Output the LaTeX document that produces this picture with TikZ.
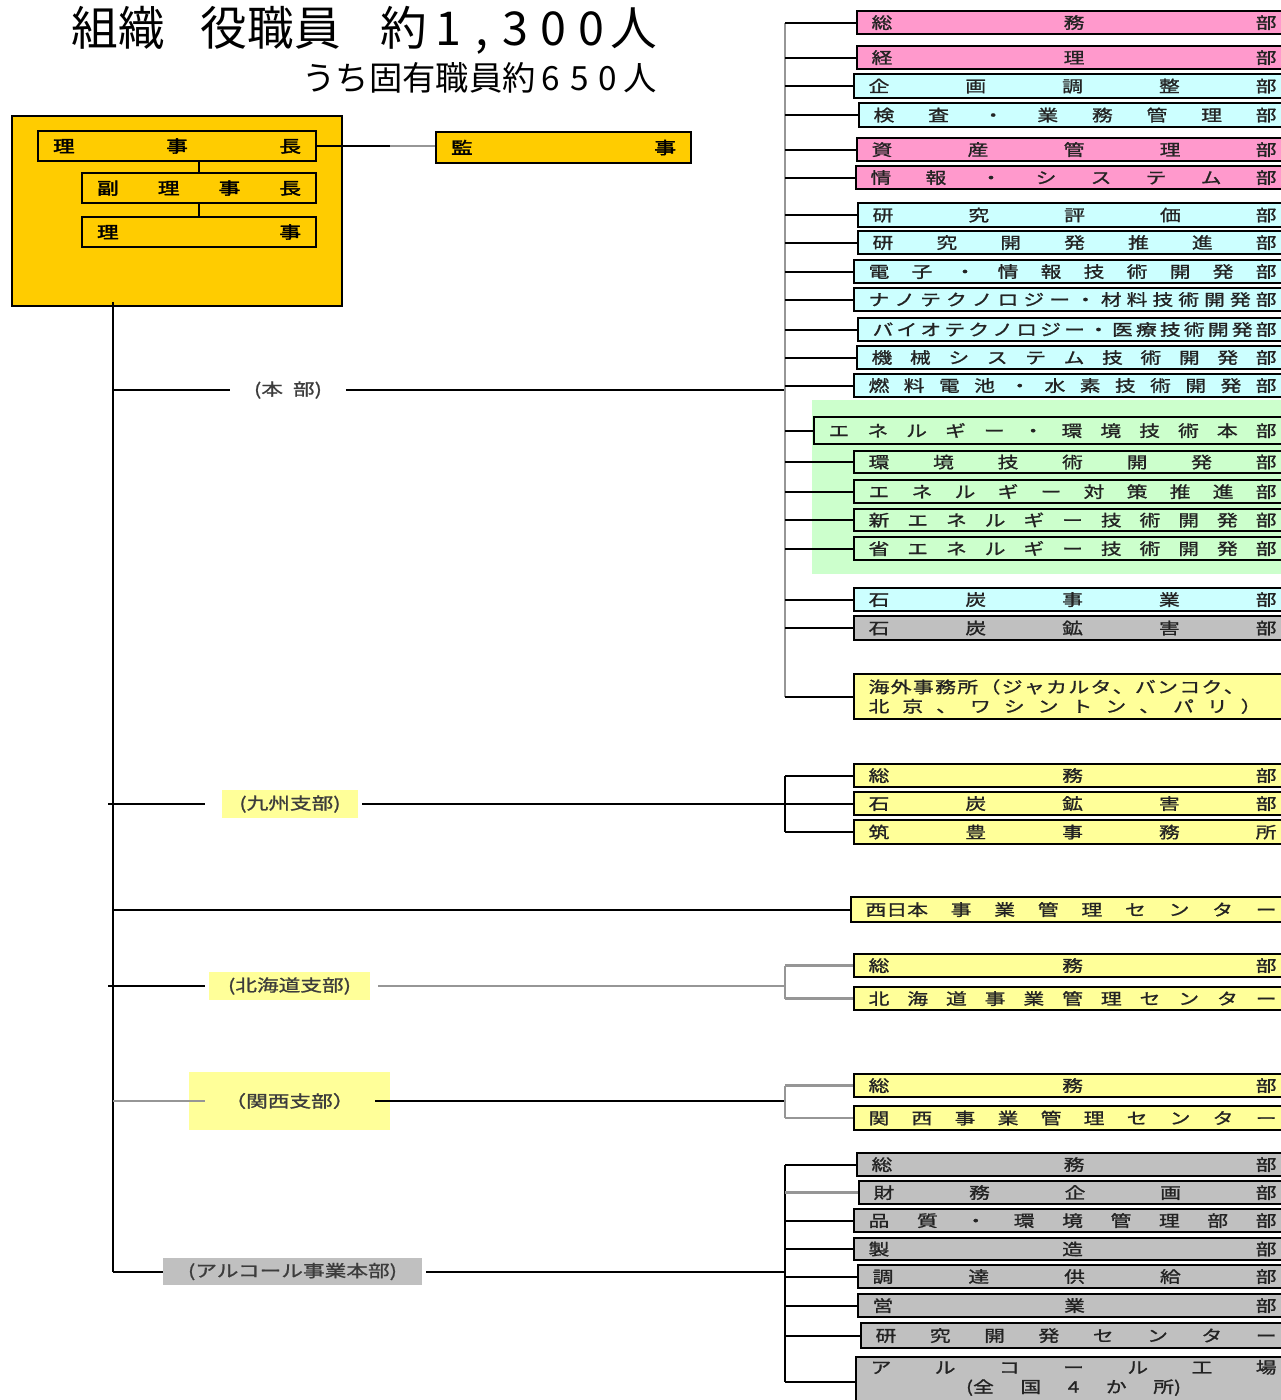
\documentclass[tikz,border=0pt]{standalone}
\usepackage{fontspec}
\setmainfont{Noto Sans CJK JP}
\newfontfamily\jp{Noto Sans CJK JP}[FakeStretch=1.3,FakeBold=1.2]
\newfontfamily\jpb{Noto Sans CJK JP}[FakeStretch=1.3,FakeBold=2.5]
\newfontfamily\tfont{Noto Sans CJK JP}
\usetikzlibrary{calc}
\newdimen\pxu \pxu=0.75pt
\definecolor{pinkc}{RGB}{255,153,204}
\definecolor{cyanc}{RGB}{204,255,255}
\definecolor{greenc}{RGB}{204,255,204}
\definecolor{grayc}{RGB}{192,192,192}
\definecolor{yelc}{RGB}{255,255,153}
\definecolor{goldc}{RGB}{255,204,0}
\definecolor{txtc}{RGB}{35,35,35}
\definecolor{labc}{RGB}{60,60,60}
\definecolor{busg}{RGB}{150,150,150}
% spread characters evenly over a given width
\def\SpStop{\SpStop}
\def\SpreadA#1{#1\SpreadB}
\def\SpreadB#1{\def\SpTmp{#1}\ifx\SpTmp\SpStop\else\hfill#1\expandafter\SpreadB\fi}
\newcommand\spread[2]{\makebox[#1][s]{\SpreadA#2\SpStop}}
% department box: name, x, y1, y2, fill, text
\newcommand\dept[6]{%
  \node[dept, fill=#5, anchor=north west, minimum width={(1290-#2)*0.75pt},
        minimum height={(#4-#3)*0.75pt}] (#1) at (#2,#3)
        {\spread{\dimexpr 1261\pxu-#2\pxu\relax}{#6}};}
% fixed box: name, x, y, w, h, fill, style, text
\newcommand\fixbox[8]{%
  \node[#7, fill=#6, anchor=north west, minimum width={#4*0.75pt},
        minimum height={#5*0.75pt}] (#1) at (#2,#3)
        {\spread{\dimexpr #4\pxu-30\pxu\relax}{#8}};}
\begin{document}
\begin{tikzpicture}[x=0.75pt,y=-0.75pt,
  conn/.style={line width=1.5pt, draw=black},
  gconn/.style={line width=1.8pt, draw=busg},
  bx/.style={draw=black, line width=1.6pt, inner sep=0pt},
  dept/.style={bx, font=\jp\fontsize{12}{14.5}\selectfont, text=txtc},
  topbox/.style={bx, font=\jpb\fontsize{12.5}{14}\selectfont, text=black},
  lab/.style={inner sep=0pt, font=\jp\fontsize{12.5}{14}\selectfont, text=labc}]
\useasboundingbox (0,0) rectangle (1281,1400);
\fill[white] (0,0) rectangle (1281,1400);

% title
\node[anchor=base east, font=\tfont\fontsize{35}{40}\selectfont, inner sep=0pt] (title) at (657,45)
  {組織\kern36\pxu 役職員\kern40\pxu 約\kern8\pxu 1\kern14\pxu ,\kern14\pxu 3\kern12\pxu 0\kern12\pxu 0\kern6\pxu 人};
\node[anchor=base east, font=\tfont\fontsize{25}{30}\selectfont, inner sep=0pt] (subtitle) at (657,90)
  {うち固有職員約\kern6\pxu 6\kern10\pxu 5\kern10\pxu 0\kern6\pxu 人};

% executive block
\node[bx, fill=goldc, anchor=north west, minimum width={330*0.75pt}, minimum height={190*0.75pt}] (board) at (11,115) {};
\fixbox{chair}{37}{130}{278}{30}{goldc}{topbox}{理事長}
\fixbox{vice}{81}{172}{234}{30}{goldc}{topbox}{副理事長}
\fixbox{dirs}{81}{216}{234}{30}{goldc}{topbox}{理事}
\fixbox{audit}{435}{131}{255}{31}{goldc}{topbox}{監事}
\draw[conn] (vice.north) -- (vice.north |- chair.south);
\draw[conn] (vice.south) -- (dirs.north);
\draw[conn] (chair.east) -- ($(chair.east)+(73,0)$);
\draw[gconn] ($(chair.east)+(73,0)$) -- (chair.east -| audit.west);

\coordinate (trunk) at (113,0);
\coordinate (bus) at (785,0);

% green band
\fill[greenc] (812,400) rectangle (1290,574);

% head office departments
\dept{hq1}{856}{10}{33}{pinkc}{総務部}
\dept{hq2}{856}{45}{68}{pinkc}{経理部}
\dept{hq3}{853}{73}{97}{cyanc}{企画調整部}
\dept{hq4}{858}{102}{126}{cyanc}{検査・業務管理部}
\dept{hq5}{856}{137}{160}{pinkc}{資産管理部}
\dept{hq6}{855}{165}{188}{pinkc}{情報・システム部}
\dept{hq7}{857}{202}{226}{cyanc}{研究評価部}
\dept{hq8}{857}{230}{253}{cyanc}{研究開発推進部}
\dept{hq9}{853}{259}{282}{cyanc}{電子・情報技術開発部}
\dept{hq10}{853}{287}{310}{cyanc}{ナノテクノロジー・材料技術開発部}
\dept{hq11}{857}{317}{340}{cyanc}{バイオテクノロジー・医療技術開発部}
\dept{hq12}{856}{345}{368}{cyanc}{機械システム技術開発部}
\dept{hq13}{853}{373}{396}{cyanc}{燃料電池・水素技術開発部}
\dept{hq14}{813}{416}{443}{greenc}{エネルギー・環境技術本部}
\dept{hq15}{853}{450}{472}{greenc}{環境技術開発部}
\dept{hq16}{853}{479}{502}{greenc}{エネルギー対策推進部}
\dept{hq17}{853}{508}{530}{greenc}{新エネルギー技術開発部}
\dept{hq18}{853}{536}{559}{greenc}{省エネルギー技術開発部}
\dept{hq19}{853}{587}{610}{cyanc}{石炭事業部}
\dept{hq20}{853}{615}{639}{grayc}{石炭鉱害部}
\node[dept, fill=yelc, anchor=north west, minimum width={(1290-853)*0.75pt},
      minimum height={45*0.75pt}, align=left] (hq21) at (853,673)
  {\makebox[\dimexpr 408\pxu\relax][l]{\spread{\dimexpr 376\pxu\relax}{海外事務所（ジャカルタ、バンコク、}}\\
   \spread{\dimexpr 393\pxu\relax}{北京、ワシントン、パリ）}};

% Kyushu
\dept{k1}{853}{763}{786}{yelc}{総務部}
\dept{k2}{853}{791}{814}{yelc}{石炭鉱害部}
\dept{k3}{853}{819}{843}{yelc}{筑豊事務所}
\dept{w1}{850}{896}{921}{yelc}{{西日本}事業管理センター}
% Hokkaido
\dept{h1}{853}{953}{976}{yelc}{総務部}
\dept{h2}{853}{986}{1009}{yelc}{北海道事業管理センター}
% Kansai
\dept{s1}{853}{1073}{1096}{yelc}{総務部}
\dept{s2}{853}{1105}{1129}{yelc}{関西事業管理センター}
% Alcohol
\dept{a1}{856}{1152}{1175}{grayc}{総務部}
\dept{a2}{858}{1180}{1203}{grayc}{財務企画部}
\dept{a3}{853}{1208}{1231}{grayc}{品質・環境管理部部}
\dept{a4}{853}{1237}{1259}{grayc}{製造部}
\dept{a5}{857}{1264}{1287}{grayc}{調達供給部}
\dept{a6}{857}{1293}{1316}{grayc}{営業部}
\dept{a7}{860}{1322}{1347}{grayc}{研究開発センター}
\node[dept, fill=grayc, anchor=north west, minimum width={(1290-855)*0.75pt},
      minimum height=0pt, inner ysep={3*0.75pt}, align=center] (a8) at (855,1356)
  {\spread{\dimexpr 406\pxu\relax}{アルコール工場}\\
   \spread{\dimexpr 215\pxu\relax}{{(全}国4か{所)}}\rule[-30pt]{0pt}{0pt}};

% labels
\node[lab, minimum width={115*0.75pt}] (hqlab) at (288,390) {(本\hspace{0.6em}部)};
\node[lab, fill=yelc, minimum width={136*0.75pt}, minimum height={28*0.75pt}] (kyu) at (290,804) {(九州支部)};
\node[lab, fill=yelc, minimum width={161*0.75pt}, minimum height={28*0.75pt}] (hok) at (289.5,986) {(北海道支部)};
\node[lab, fill=yelc, minimum width={201*0.75pt}, minimum height={58*0.75pt}] (kan) at (289.5,1101) {（関西支部）};
\node[lab, fill=grayc, minimum width={259*0.75pt}, minimum height={27*0.75pt}] (alc) at (292.5,1271.5) {(アルコール事業本部)};

% trunk
\draw[conn] ($(board.south -| trunk)+(0,-5)$) -- (alc.west -| trunk);

% head office
\draw[conn] (hqlab.west -| trunk) -- (hqlab.west);
\draw[conn] (hqlab.east) -- (hqlab.east -| bus);
\draw[gconn, line width=2.2pt] (bus |- hq1.west) -- (bus |- hq21.west);
\foreach \n in {hq1,hq2,hq3,hq4,hq5,hq6,hq7,hq8,hq9,hq10,hq11,hq12,hq13,hq14,hq15,hq16,hq17,hq18,hq19,hq20,hq21}
  \draw[conn] (bus |- \n.west) -- (\n.west);

% Kyushu
\draw[conn] ($(kyu.west -| trunk)+(-5,0)$) -- ($(kyu.west)+(-17,0)$);
\draw[conn] ($(kyu.east)+(4,0)$) -- (kyu.east -| bus);
\draw[conn] (bus |- k1.west) -- (bus |- k3.west);
\foreach \n in {k1,k2,k3} \draw[conn] (bus |- \n.west) -- (\n.west);

% West Japan
\draw[conn] (w1.west -| trunk) -- (w1.west);

% Hokkaido
\draw[conn] ($(hok.west -| trunk)+(-5,0)$) -- ($(hok.west)+(-4,0)$);
\draw[gconn] ($(hok.east)+(8,0)$) -- (hok.east -| bus);
\draw[gconn] (bus |- h1.west) -- (bus |- h2.west);
\foreach \n in {h1,h2} \draw[gconn] (bus |- \n.west) -- (\n.west);

% Kansai
\draw[gconn] (kan.west -| trunk) -- ($(kan.west)+(16,0)$);
\draw[conn] ($(kan.east)+(-15,0)$) -- (kan.east -| bus);
\draw[gconn] (bus |- s1.west) -- (bus |- s2.west);
\foreach \n in {s1,s2} \draw[gconn] (bus |- \n.west) -- (\n.west);

% Alcohol
\draw[conn] (alc.west -| trunk) -- (alc.west);
\draw[conn] ($(alc.east)+(4,0)$) -- (alc.east -| bus);
\draw[conn] (bus |- a1.west) -- ($(bus |- a8.north west)+(0,26)$);
\foreach \n in {a1,a3,a4,a5,a6,a7} \draw[conn] (bus |- \n.west) -- (\n.west);
\draw[gconn] (bus |- a2.west) -- (a2.west);
\draw[conn] ($(bus |- a8.north west)+(0,26)$) -- ($(a8.north west)+(0,26)$);
\end{tikzpicture}
\end{document}
